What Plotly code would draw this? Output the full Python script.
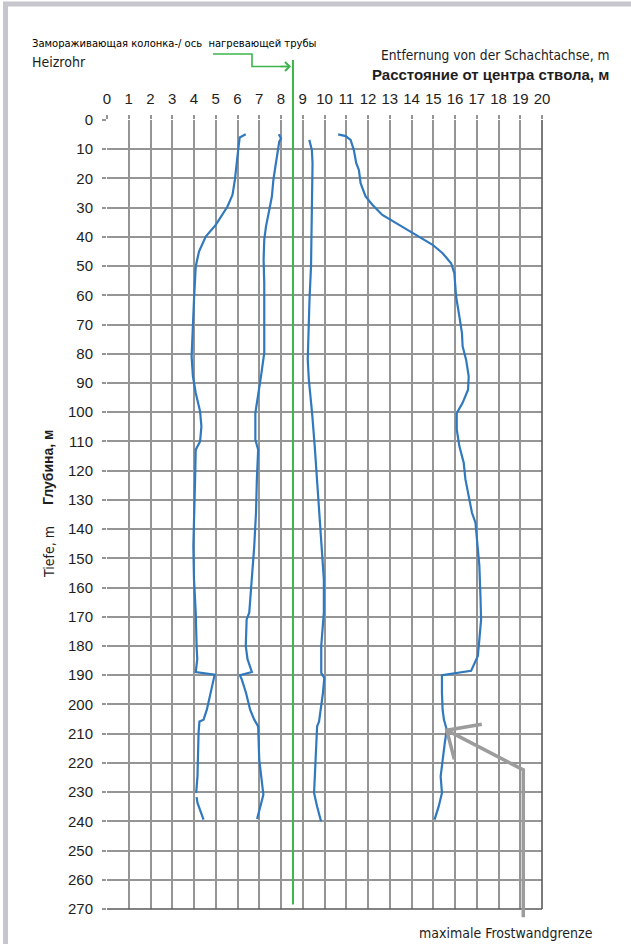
import plotly.graph_objects as go

# ---------------- data (distance from shaft centre, m ; depth, m) ----------------
x_ticks = list(range(0, 21))
y_ticks = list(range(0, 271, 10))

# left outer frost boundary (upper part, down to ~230 m)
left_outer_depth = [4.9, 6, 10.3, 16, 20.5, 25.6, 29.6, 35.9, 39.9, 45, 50.1, 61.5, 72.9, 80.9, 87.7,
                    93.4, 99.7, 104.8, 110, 112.8, 123, 134.4, 145.8, 157.2, 168.6, 180, 184.5, 188.9,
                    189.8, 191.5, 196, 201.8, 205.2, 205.8, 209.7, 218.9, 224.6, 230.3]
left_outer_dist = [6.38, 6.1, 6.03, 5.95, 5.88, 5.77, 5.54, 5.0, 4.54, 4.23, 4.08, 4.0, 3.95, 3.89, 3.95,
                   4.08, 4.28, 4.34, 4.28, 4.08, 4.05, 4.0, 3.97, 4.0, 4.08, 4.12, 4.15, 4.08,
                   4.95, 4.9, 4.77, 4.59, 4.44, 4.25, 4.21, 4.19, 4.16, 4.1]
# left outer frost boundary (short lower piece)
left_outer_tail_depth = [231.7, 233.7, 239.4]
left_outer_tail_dist = [4.12, 4.16, 4.44]

# left inner frost boundary
left_inner_depth = [4.9, 6.3, 7.4, 10.3, 16, 20.5, 26.2, 30.8, 36.4, 41, 47.8, 55.8, 67.2, 79.7, 87.7,
                    95.7, 100.3, 109.4, 112.8, 123, 134.4, 145.8, 157.2, 168.6, 170.9, 180, 184.5, 188.9,
                    190, 191.5, 196, 201.8, 205.2, 207.5, 218.9, 224.6, 230.9, 234.9, 239.2]
left_inner_dist = [7.9, 8.0, 7.92, 7.85, 7.74, 7.65, 7.58, 7.46, 7.31, 7.23, 7.2, 7.23, 7.23, 7.23, 7.08,
                   6.92, 6.82, 6.82, 6.95, 6.89, 6.85, 6.77, 6.66, 6.54, 6.42, 6.38, 6.46, 6.66,
                   6.11, 6.2, 6.39, 6.58, 6.77, 6.95, 7.0, 7.08, 7.19, 7.05, 6.9]

# right inner frost boundary
right_inner_depth = [6.8, 10.3, 14.8, 27.3, 38.7, 50.1, 61.5, 72.9, 82, 88.9, 95.7, 100.3, 111.6, 123,
                     134.4, 145.8, 157.2, 168.6, 175.4, 180, 189.2, 190.9, 196, 201.8, 205.8, 207.5,
                     218.9, 230.3, 234.9, 240]
right_inner_dist = [9.3, 9.42, 9.45, 9.42, 9.42, 9.38, 9.31, 9.25, 9.23, 9.28, 9.38, 9.43, 9.55, 9.66,
                    9.77, 9.86, 9.97, 9.97, 9.89, 9.85, 9.85, 9.99, 9.93, 9.84, 9.75, 9.66,
                    9.6, 9.52, 9.66, 9.84]

# right outer frost boundary
right_outer_depth = [4.9, 5.5, 6.8, 10.3, 14.8, 17.1, 21.6, 26.2, 29, 32.5, 35.9, 39.3, 42.7, 45.6, 49,
                     52.4, 60.4, 67.2, 72.9, 77.4, 82, 87.7, 92.3, 96.8, 100.3, 105.9, 111.6, 117.3, 123,
                     128.7, 134.4, 137.8, 145.8, 152.6, 162.9, 170.9, 177.7, 183.4, 188.5, 190, 196,
                     201.8, 205.2, 208.6, 213.2, 218.9, 224.6, 230.3, 234.9, 239.4]
right_outer_dist = [10.63, 10.97, 11.2, 11.35, 11.46, 11.58, 11.66, 11.89, 12.2, 12.66, 13.43, 14.2, 14.97,
                    15.43, 15.82, 15.97, 16.05, 16.2, 16.32, 16.35, 16.51, 16.63, 16.6, 16.35, 16.08, 16.08,
                    16.2, 16.4, 16.48, 16.63, 16.78, 16.94, 17.05, 17.12, 17.17, 17.2, 17.12, 17.05, 16.74,
                    15.4, 15.4, 15.43, 15.49, 15.62, 15.53, 15.43, 15.34, 15.4, 15.25, 15.06]

heater_axis_dist = 8.55          # freeze pipe / heating pipe axis, m
heater_axis_bottom = 268.5       # depth where the green axis line ends, m

# pointer to the maximum frost-wall boundary (distance, depth)
pointer_tip = (15.62, 208.8)
pointer_head_a = (17.23, 206.8)
pointer_head_b = (15.97, 218.8)
pointer_corner = (19.14, 222.4)
pointer_foot = (19.14, 272.8)

# ---------------- layout geometry ----------------
W, H = 631, 944
ML, MR, MT, MB = 107, 89, 120, 35
PW, PH = W - ML - MR, H - MT - MB
X0, X1 = 0, 20
Y0, Y1 = 0, 270


def dpx(d):  # distance -> paper x
    return (d - X0) / (X1 - X0)


def dpy(z):  # depth -> paper y
    return 1 - (z - Y0) / (Y1 - Y0)


def ppx(px):  # pixel x -> paper x
    return (px - ML) / PW


def ppy(py):  # pixel y -> paper y
    return (H - MB - py) / PH


BLUE = "#3079be"
GREEN = "#3db54a"
GRID = "#959595"
TXT = "#1e1e1e"
COND = "Liberation Sans Narrow, DejaVu Sans Condensed, Arial Narrow, Liberation Sans, sans-serif"
SANS = "Liberation Sans, Arial, Helvetica, sans-serif"

fig = go.Figure()
for xs, ys in [(left_outer_dist, left_outer_depth), (left_outer_tail_dist, left_outer_tail_depth),
               (left_inner_dist, left_inner_depth), (right_inner_dist, right_inner_depth),
               (right_outer_dist, right_outer_depth)]:
    fig.add_trace(go.Scatter(x=xs, y=ys, mode="lines", line=dict(color=BLUE, width=2.2),
                             showlegend=False, hoverinfo="skip"))

shapes = []
# page frame (left and top)
shapes.append(dict(type="line", xref="paper", yref="paper", x0=ppx(5.5), x1=ppx(5.5), y0=ppy(2), y1=ppy(H + 5),
                   line=dict(color="#c6c6cc", width=5)))
shapes.append(dict(type="line", xref="paper", yref="paper", x0=ppx(3), x1=ppx(W + 5), y0=ppy(4), y1=ppy(4),
                   line=dict(color="#c6c6cc", width=5)))
# right and bottom border of grid
shapes.append(dict(type="line", xref="paper", yref="paper", x0=1, x1=1, y0=0, y1=1,
                   line=dict(color="#5a5a5a", width=1.6)))
shapes.append(dict(type="line", xref="paper", yref="paper", x0=0, x1=1, y0=0, y1=0,
                   line=dict(color="#5a5a5a", width=1.6)))
# green heating-pipe axis
shapes.append(dict(type="line", xref="paper", yref="paper", x0=dpx(heater_axis_dist), x1=dpx(heater_axis_dist),
                   y0=ppy(60), y1=dpy(heater_axis_bottom), line=dict(color=GREEN, width=2)))
# green connector from the caption
shapes.append(dict(type="path", xref="paper", yref="paper",
                   path=f"M{ppx(213)},{ppy(54)} L{ppx(252)},{ppy(54)} L{ppx(252)},{ppy(66.5)} L{ppx(287)},{ppy(66.5)}",
                   line=dict(color=GREEN, width=1.6)))
# grey pointer
pts = [pointer_foot, pointer_corner, pointer_tip]
path = "M" + " L".join(f"{dpx(a)},{dpy(b)}" for a, b in pts)
path += f" M{dpx(pointer_head_a[0])},{dpy(pointer_head_a[1])} L{dpx(pointer_tip[0])},{dpy(pointer_tip[1])}"
path += f" L{dpx(pointer_head_b[0])},{dpy(pointer_head_b[1])}"
shapes.append(dict(type="path", xref="paper", yref="paper", path=path,
                   line=dict(color="#9c9c9c", width=3.5)))

annotations = [
    # green arrowhead
    dict(xref="paper", yref="paper", x=ppx(291), y=ppy(66.5), ax=-12, ay=0, axref="pixel", ayref="pixel",
         text="", showarrow=True, arrowhead=4, arrowsize=1.1, arrowwidth=1.6, arrowcolor=GREEN),
    dict(xref="paper", yref="paper", x=ppx(30), y=ppy(43), xanchor="left", yanchor="middle", showarrow=False,
         text="Замораживающая колонка-/ ось  нагревающей трубы",
         font=dict(family=COND, size=11.1, color="#000000")),
    dict(xref="paper", yref="paper", x=ppx(30), y=ppy(62), xanchor="left", yanchor="middle", showarrow=False,
         text="Heizrohr", font=dict(family=COND, size=14, color=TXT)),
    dict(xref="paper", yref="paper", x=ppx(611), y=ppy(55), xanchor="right", yanchor="middle", showarrow=False,
         text="Entfernung von der Schachtachse, m", font=dict(family=COND, size=13.7, color=TXT)),
    dict(xref="paper", yref="paper", x=ppx(611), y=ppy(74), xanchor="right", yanchor="middle", showarrow=False,
         text="<b>Расстояние от центра ствола, м</b>", font=dict(family=SANS, size=15, color=TXT)),
    dict(xref="paper", yref="paper", x=ppx(48), y=ppy(467), xanchor="center", yanchor="middle", showarrow=False,
         textangle=-90, text="<b>Глубина, м</b>", font=dict(family=SANS, size=14, color=TXT)),
    dict(xref="paper", yref="paper", x=ppx(49), y=ppy(552), xanchor="center", yanchor="middle", showarrow=False,
         textangle=-90, text="Tiefe, m", font=dict(family=COND, size=14, color=TXT)),
    dict(xref="paper", yref="paper", x=ppx(506), y=ppy(933), xanchor="center", yanchor="middle", showarrow=False,
         text="maximale Frostwandgrenze", font=dict(family=COND, size=14, color=TXT)),
]

fig.update_layout(
    width=W, height=H,
    margin=dict(l=ML, r=MR, t=MT, b=MB, pad=0),
    paper_bgcolor="white", plot_bgcolor="white",
    showlegend=False,
    shapes=shapes, annotations=annotations,
    xaxis=dict(range=[X0, X1], side="top", tickmode="array", tickvals=x_ticks,
               ticktext=[str(v) for v in x_ticks], showgrid=True, gridcolor=GRID, gridwidth=1.5,
               zeroline=False, showline=False, ticks="outside", ticklen=4, tickcolor=GRID, tickwidth=1.5,
               tickfont=dict(family=SANS, size=15, color=TXT), ticklabelstandoff=5, fixedrange=True),
    yaxis=dict(range=[Y1, Y0], tickmode="array", tickvals=y_ticks,
               ticktext=[str(v) for v in y_ticks], showgrid=True, gridcolor=GRID, gridwidth=1.5,
               zeroline=False, showline=False, ticks="outside", ticklen=4, tickcolor=GRID, tickwidth=1.5,
               tickfont=dict(family=SANS, size=15, color=TXT), ticklabelstandoff=6, fixedrange=True),
)

fig.write_html("out.html", config={"displayModeBar": False},
               post_script="document.body.style.margin='0';document.body.style.overflow='hidden';")
